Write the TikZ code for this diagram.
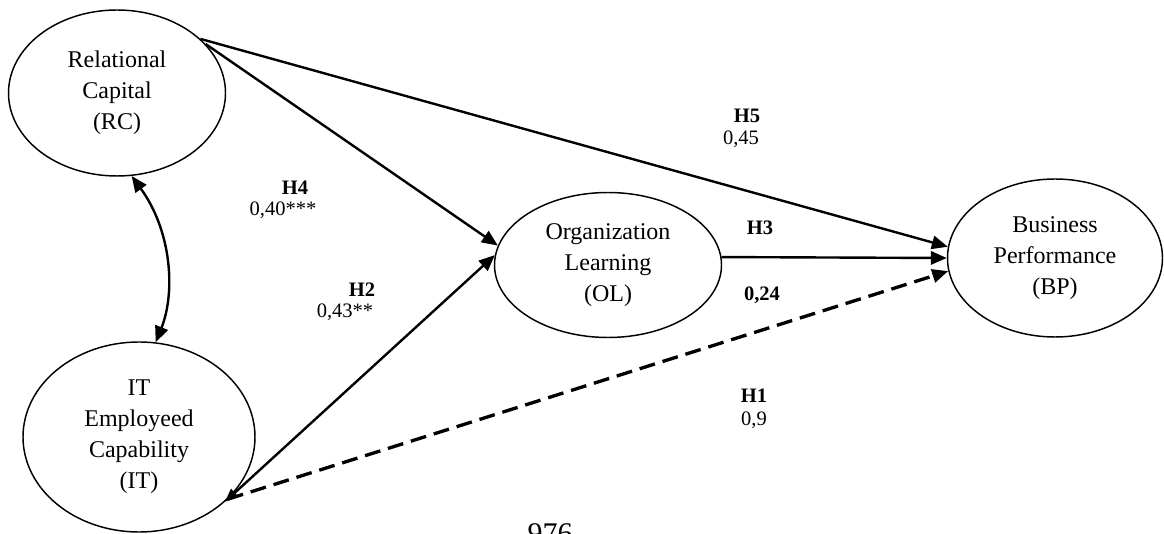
\documentclass[tikz,border=0pt]{standalone}
\usepackage{fontspec}
\setmainfont{Liberation Serif}
\usetikzlibrary{arrows.meta,shapes.geometric}
\begin{document}
\begin{tikzpicture}[x=0.75pt,y=-0.75pt,
  latent/.style={draw, ellipse, line width=1.1pt, inner sep=0pt, align=center,
    font=\fontsize{18}{23.25}\selectfont},
  tip/.style={-{Triangle[length=12pt,width=10pt]}},
  pathline/.style={line width=1.8pt, tip},
  dashline/.style={line width=2.5pt, dash pattern=on 12pt off 6pt, tip},
  hyp/.style={font=\fontsize{15.4}{18}\selectfont\bfseries, inner sep=0pt},
  val/.style={font=\fontsize{15.4}{18}\selectfont, inner sep=0pt}]
\useasboundingbox (0,0) rectangle (1164,534);

\node[latent, minimum width=162.75pt, minimum height=124.5pt] (RC) at (117,93) {Relational\\Capital\\(RC)};
\node[latent, minimum width=174pt, minimum height=142.5pt] (IT) at (139,437) {IT\\Employeed\\Capability\\(IT)};
\node[latent, minimum width=170.25pt, minimum height=108.75pt] (OL) at (608,265) {Organization\\Learning\\(OL)};
\node[latent, minimum width=161.25pt, minimum height=118.5pt] (BP) at (1055,258) {Business\\Performance\\(BP)};

% connectors
\draw[pathline] (RC.33) -- (BP.174);
\draw[pathline] (RC.29) -- (OL.170);
\draw[pathline, {Triangle[length=10pt,width=8pt]}-{Triangle[length=12pt,width=10pt]}] (IT.-37) -- (OL.175);
\draw[pathline] (OL.4) -- (BP.180);
\draw[dashline] (IT.-35) -- (BP.187);
\draw[line width=1.8pt, {Triangle[length=12pt,width=10pt]}-{Triangle[length=12pt,width=10pt]}]
  (RC.-80) .. controls +(40,55) and +(20,-50) .. (IT.80);

% labels
\node[hyp] (h4) at (295,188) {H4};
\node[val] (v4) at (283,210) {0,40***};
\node[hyp] (h2) at (362,290) {H2};
\node[val] (v2) at (345,312) {0,43**};
\node[hyp] (h5) at (747,116) {H5};
\node[val] (v5) at (741,139) {0,45};
\node[hyp] (h3) at (760,228) {H3};
\node[hyp] (v3) at (762,295) {0,24};
\node[hyp] (h1) at (754,396) {H1};
\node[val] (v1) at (754,420) {0,9};
\node[anchor=base, inner sep=0pt, font=\fontsize{22.5}{26}\selectfont] (pg) at (550,543) {976};
\end{tikzpicture}
\end{document}
